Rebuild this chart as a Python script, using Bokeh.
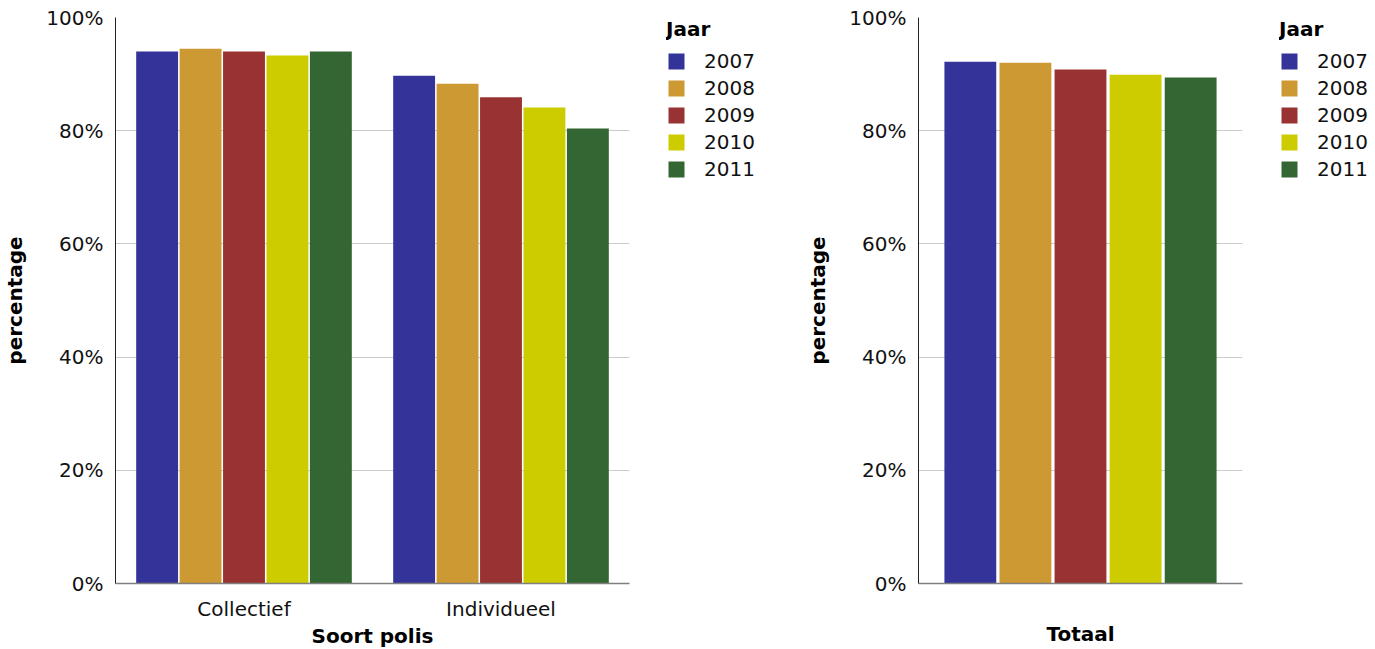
from bokeh.plotting import figure
from bokeh.models import (ColumnDataSource, FactorRange, Range1d, Legend, LegendItem,
                          PrintfTickFormatter, FixedTicker, LinearAxis)
from bokeh.transform import dodge
from bokeh.layouts import row
from bokeh.embed import file_html
from bokeh.resources import INLINE

years = ["2007", "2008", "2009", "2010", "2011"]
colors = ["#333399", "#CC9933", "#993333", "#CCCC00", "#336633"]

soort = ["Collectief", "Individueel"]
v2007 = [94.0, 89.7]
v2008 = [94.5, 88.3]
v2009 = [94.0, 85.9]
v2010 = [93.3, 84.1]
v2011 = [94.0, 80.4]

totaal_cat = ["Totaal"]
t2007 = [92.2]
t2008 = [92.0]
t2009 = [90.8]
t2010 = [89.9]
t2011 = [89.4]

FONT = "DejaVu Sans"


def style_axis(ax):
    ax.major_tick_line_color = None
    ax.minor_tick_line_color = None
    ax.major_label_text_font = FONT
    ax.major_label_text_font_size = "20px"
    ax.major_label_text_color = "#111111"
    ax.axis_label_text_font = FONT
    ax.axis_label_text_font_style = "bold"
    ax.axis_label_text_font_size = "20px"
    ax.axis_label_text_color = "#000000"


def legend_fig(width):
    lf = figure(width=width, height=643, x_range=Range1d(0, 1), y_range=Range1d(0, 1),
                x_axis_type=None, y_axis_type=None, output_backend="svg",
                toolbar_location=None, min_border=0)
    lf.outline_line_color = None
    lf.xgrid.visible = False
    lf.ygrid.visible = False
    items = []
    for y, c in zip(years, colors):
        # zero-height proxy outside the visible range, only used for the legend swatch
        r = lf.vbar(x=[-1], top=[0], width=0.1, fill_color=c, line_color=None)
        items.append(LegendItem(label=y, renderers=[r]))
    leg = Legend(items=items, title="Jaar", location="top_left")
    leg.title_text_font = FONT
    leg.title_text_font_style = "bold"
    leg.title_text_font_size = "20px"
    leg.title_text_color = "#000000"
    leg.title_standoff = 8
    leg.label_text_font = FONT
    leg.label_text_font_size = "20px"
    leg.label_text_color = "#111111"
    leg.glyph_width = 20
    leg.glyph_height = 20
    leg.label_standoff = 18
    leg.spacing = 3
    leg.padding = 0
    leg.margin = 0
    leg.border_line_color = None
    leg.background_fill_alpha = 0
    leg.label_height = 24
    lf.add_layout(leg)
    return lf


def make(cats, series, xlabel, fw, step, bw, hide_labels):
    data = {"cat": cats}
    for y, s in zip(years, series):
        data[y] = s
    src = ColumnDataSource(data)
    p = figure(x_range=FactorRange(*cats), y_range=Range1d(0, 100),
               frame_width=fw, frame_height=566,
               output_backend="svg", toolbar_location=None,
               x_axis_type=None if hide_labels else "auto",
               min_border_left=110, min_border_top=17, min_border_bottom=10,
               min_border_right=37)
    p.outline_line_color = None
    n = len(years)
    for i, (y, c) in enumerate(zip(years, colors)):
        off = (i - (n - 1) / 2) * step
        p.vbar(x=dodge("cat", off, range=p.x_range), top=y, width=bw, source=src,
               fill_color=c, line_color=None)

    if hide_labels:
        xa = LinearAxis(ticker=FixedTicker(ticks=[]), major_label_standoff=0)
        p.add_layout(xa, "below")
        style_axis(xa)
        xa.axis_label_standoff = 38
    else:
        xa = p.xaxis[0]
        style_axis(xa)
        xa.major_label_standoff = 7
        xa.axis_label_standoff = 0
    xa.axis_label = xlabel
    xa.axis_line_color = "#808080"
    xa.axis_line_width = 1.5

    ya = p.yaxis[0]
    style_axis(ya)
    ya.ticker = FixedTicker(ticks=[0, 20, 40, 60, 80, 100])
    ya.formatter = PrintfTickFormatter(format="%d%%")
    ya.axis_label = "percentage"
    ya.axis_line_color = "#222222"
    ya.axis_label_standoff = 16
    ya.major_label_standoff = 6

    p.xgrid.grid_line_color = None
    p.ygrid.grid_line_color = "#cccccc"
    return p


p1 = make(soort, [v2007, v2008, v2009, v2010, v2011], "Soort polis", 514, 0.169, 0.163, False)
l1 = legend_fig(137)
p2 = make(totaal_cat, [t2007, t2008, t2009, t2010, t2011], "Totaal", 324, 0.17, 0.16, True)
l2 = legend_fig(92)

lay = row(p1, l1, p2, l2)
open("out.html", "w").write(file_html(lay, INLINE))
